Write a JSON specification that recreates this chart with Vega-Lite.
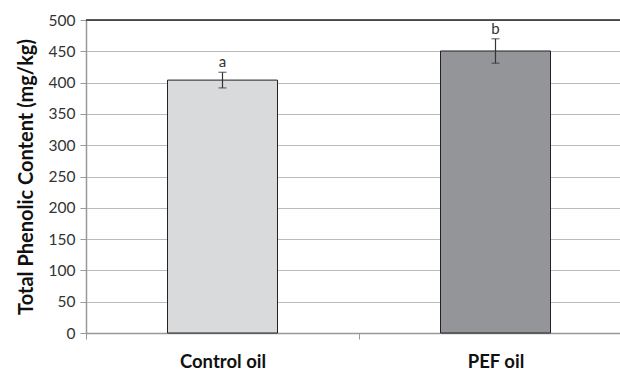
{
  "$schema": "https://vega.github.io/schema/vega-lite/v6.json",
  "width": 534,
  "height": 313,
  "autosize": {"type": "none"},
  "padding": {"left": 86, "top": 20, "right": 0, "bottom": 38},
  "background": "white",
  "config": {
    "view": {"stroke": null},
    "font": "Lato",
    "axisY": {
      "tickCount": 10,
      "labelOverlap": false,
      "labelFont": "Lato",
      "labelFontSize": 15.5,
      "labelColor": "#333",
      "labelPadding": 5,
      "tickSize": 6,
      "tickColor": "#999",
      "domainColor": "#999",
      "domainWidth": 1.5,
      "grid": true,
      "gridColor": "#bbbbbb",
      "gridWidth": 1,
      "titleFont": "Lato",
      "titleFontSize": 20,
      "titleFontWeight": "bold",
      "titleColor": "#111",
      "titlePadding": 12
    }
  },
  "data": {
    "values": [
      {"group": "Control oil", "value": 404, "low": 391.5, "high": 416.5, "sig": "a"},
      {"group": "PEF oil", "value": 450.5, "low": 431, "high": 470, "sig": "b"}
    ]
  },
  "layer": [
    {
      "mark": {"type": "bar", "width": 110, "stroke": "#222", "strokeWidth": 1},
      "encoding": {
        "x": {
          "field": "group",
          "type": "nominal",
          "sort": null,
          "scale": {"range": [0, 546], "padding": 0},
          "axis": {
            "title": null,
            "labelAngle": 0,
            "labelFont": "Lato",
            "labelFontSize": 18.5,
            "labelFontWeight": "bold",
            "labelColor": "#111",
            "labelPadding": 13,
            "tickBand": "extent",
            "tickSize": 6,
            "tickColor": "#999",
            "domainColor": "#999",
            "domainWidth": 1.5,
            "grid": false
          }
        },
        "y": {
          "field": "value",
          "type": "quantitative",
          "scale": {"domain": [0, 500], "nice": false},
          "axis": {"title": "Total Phenolic Content (mg/kg)"}
        },
        "color": {
          "field": "group",
          "type": "nominal",
          "scale": {"domain": ["Control oil", "PEF oil"], "range": ["#d9dadc", "#939598"]},
          "legend": null
        }
      }
    },
    {
      "mark": {"type": "rule", "color": "#222", "strokeWidth": 1},
      "encoding": {"y": {"datum": 500}}
    },
    {
      "mark": {"type": "rule", "color": "#333", "strokeWidth": 1.2},
      "encoding": {
        "x": {"field": "group", "type": "nominal", "sort": null},
        "y": {"field": "low", "type": "quantitative"},
        "y2": {"field": "high"}
      }
    },
    {
      "mark": {"type": "tick", "color": "#333", "size": 8, "thickness": 1.2, "orient": "horizontal"},
      "encoding": {
        "x": {"field": "group", "type": "nominal", "sort": null},
        "y": {"field": "low", "type": "quantitative"}
      }
    },
    {
      "mark": {"type": "tick", "color": "#333", "size": 8, "thickness": 1.2, "orient": "horizontal"},
      "encoding": {
        "x": {"field": "group", "type": "nominal", "sort": null},
        "y": {"field": "high", "type": "quantitative"}
      }
    },
    {
      "mark": {"type": "text", "dy": -10, "fontSize": 15, "color": "#333", "font": "Lato"},
      "encoding": {
        "x": {"field": "group", "type": "nominal", "sort": null},
        "y": {"field": "high", "type": "quantitative"},
        "text": {"field": "sig"}
      }
    }
  ]
}
